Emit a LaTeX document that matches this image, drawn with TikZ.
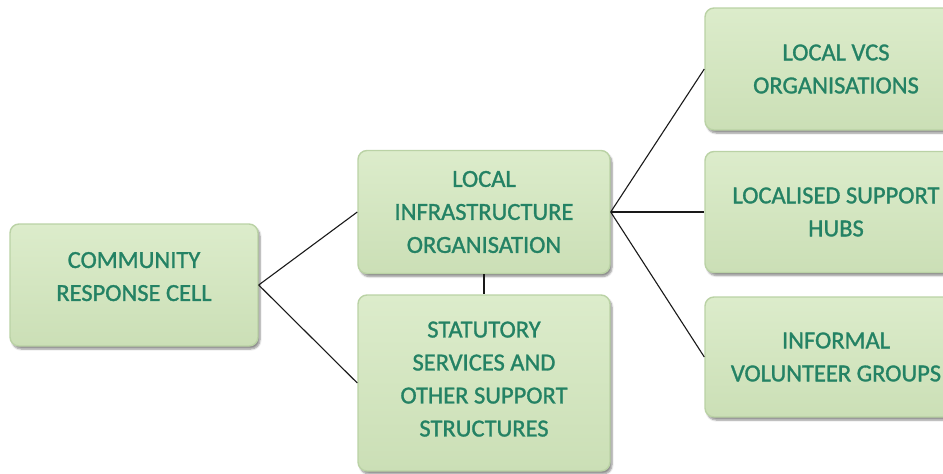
\documentclass[tikz,border=0pt]{standalone}
\usepackage{fontspec}
\setmainfont{Carlito}
\newfontfamily\boxfont[FakeBold=1.2]{Carlito}
\usetikzlibrary{shadows.blur}
\definecolor{boxtop}{RGB}{220,236,203}
\definecolor{boxbot}{RGB}{203,223,182}
\definecolor{boxedge}{RGB}{186,210,165}
\definecolor{txtgreen}{RGB}{36,130,100}
\tikzset{
  cellbox/.style={rectangle, rounded corners=9pt, draw=boxedge, line width=1.4pt,
    top color=boxtop, bottom color=boxbot, text=txtgreen, align=center,
    font=\boxfont\fontsize{24.5}{33}\selectfont, inner sep=0pt,
    blur shadow={shadow xshift=2pt, shadow yshift=-3pt, shadow blur steps=6, shadow opacity=45}},
  link/.style={draw=black!90, line width=1.1pt}
}
\begin{document}
\begin{tikzpicture}[x=1pt,y=-1pt]
\useasboundingbox (0,0) rectangle (943,474);
\clip (0,0) rectangle (943,474);
\node[cellbox, minimum width=248pt, minimum height=122pt, text depth=17pt] (comm) at (134,285) {COMMUNITY\\RESPONSE CELL};
\node[cellbox, minimum width=252pt, minimum height=123pt] (infra) at (484,212) {LOCAL\\INFRASTRUCTURE\\ORGANISATION};
\node[cellbox, minimum width=252pt, minimum height=176pt, text depth=8pt] (stat) at (484,383) {STATUTORY\\SERVICES AND\\OTHER SUPPORT\\STRUCTURES};
\node[cellbox, minimum width=262pt, minimum height=122pt] (vcs) at (836,69) {LOCAL VCS\\ORGANISATIONS};
\node[cellbox, minimum width=262pt, minimum height=121pt] (hubs) at (836,212) {LOCALISED SUPPORT\\HUBS};
\node[cellbox, minimum width=262pt, minimum height=120pt] (inf) at (836,357) {INFORMAL\\VOLUNTEER GROUPS};
\draw[link] (comm.east) -- (infra.west);
\draw[link] (comm.east) -- (stat.west);
\draw[link] (infra.east) -- (vcs.west);
\draw[link] (infra.east) -- (hubs.west);
\draw[link] (infra.east) -- (inf.west);
\draw[link] (infra.south) -- (stat.north);
\end{tikzpicture}
\end{document}
